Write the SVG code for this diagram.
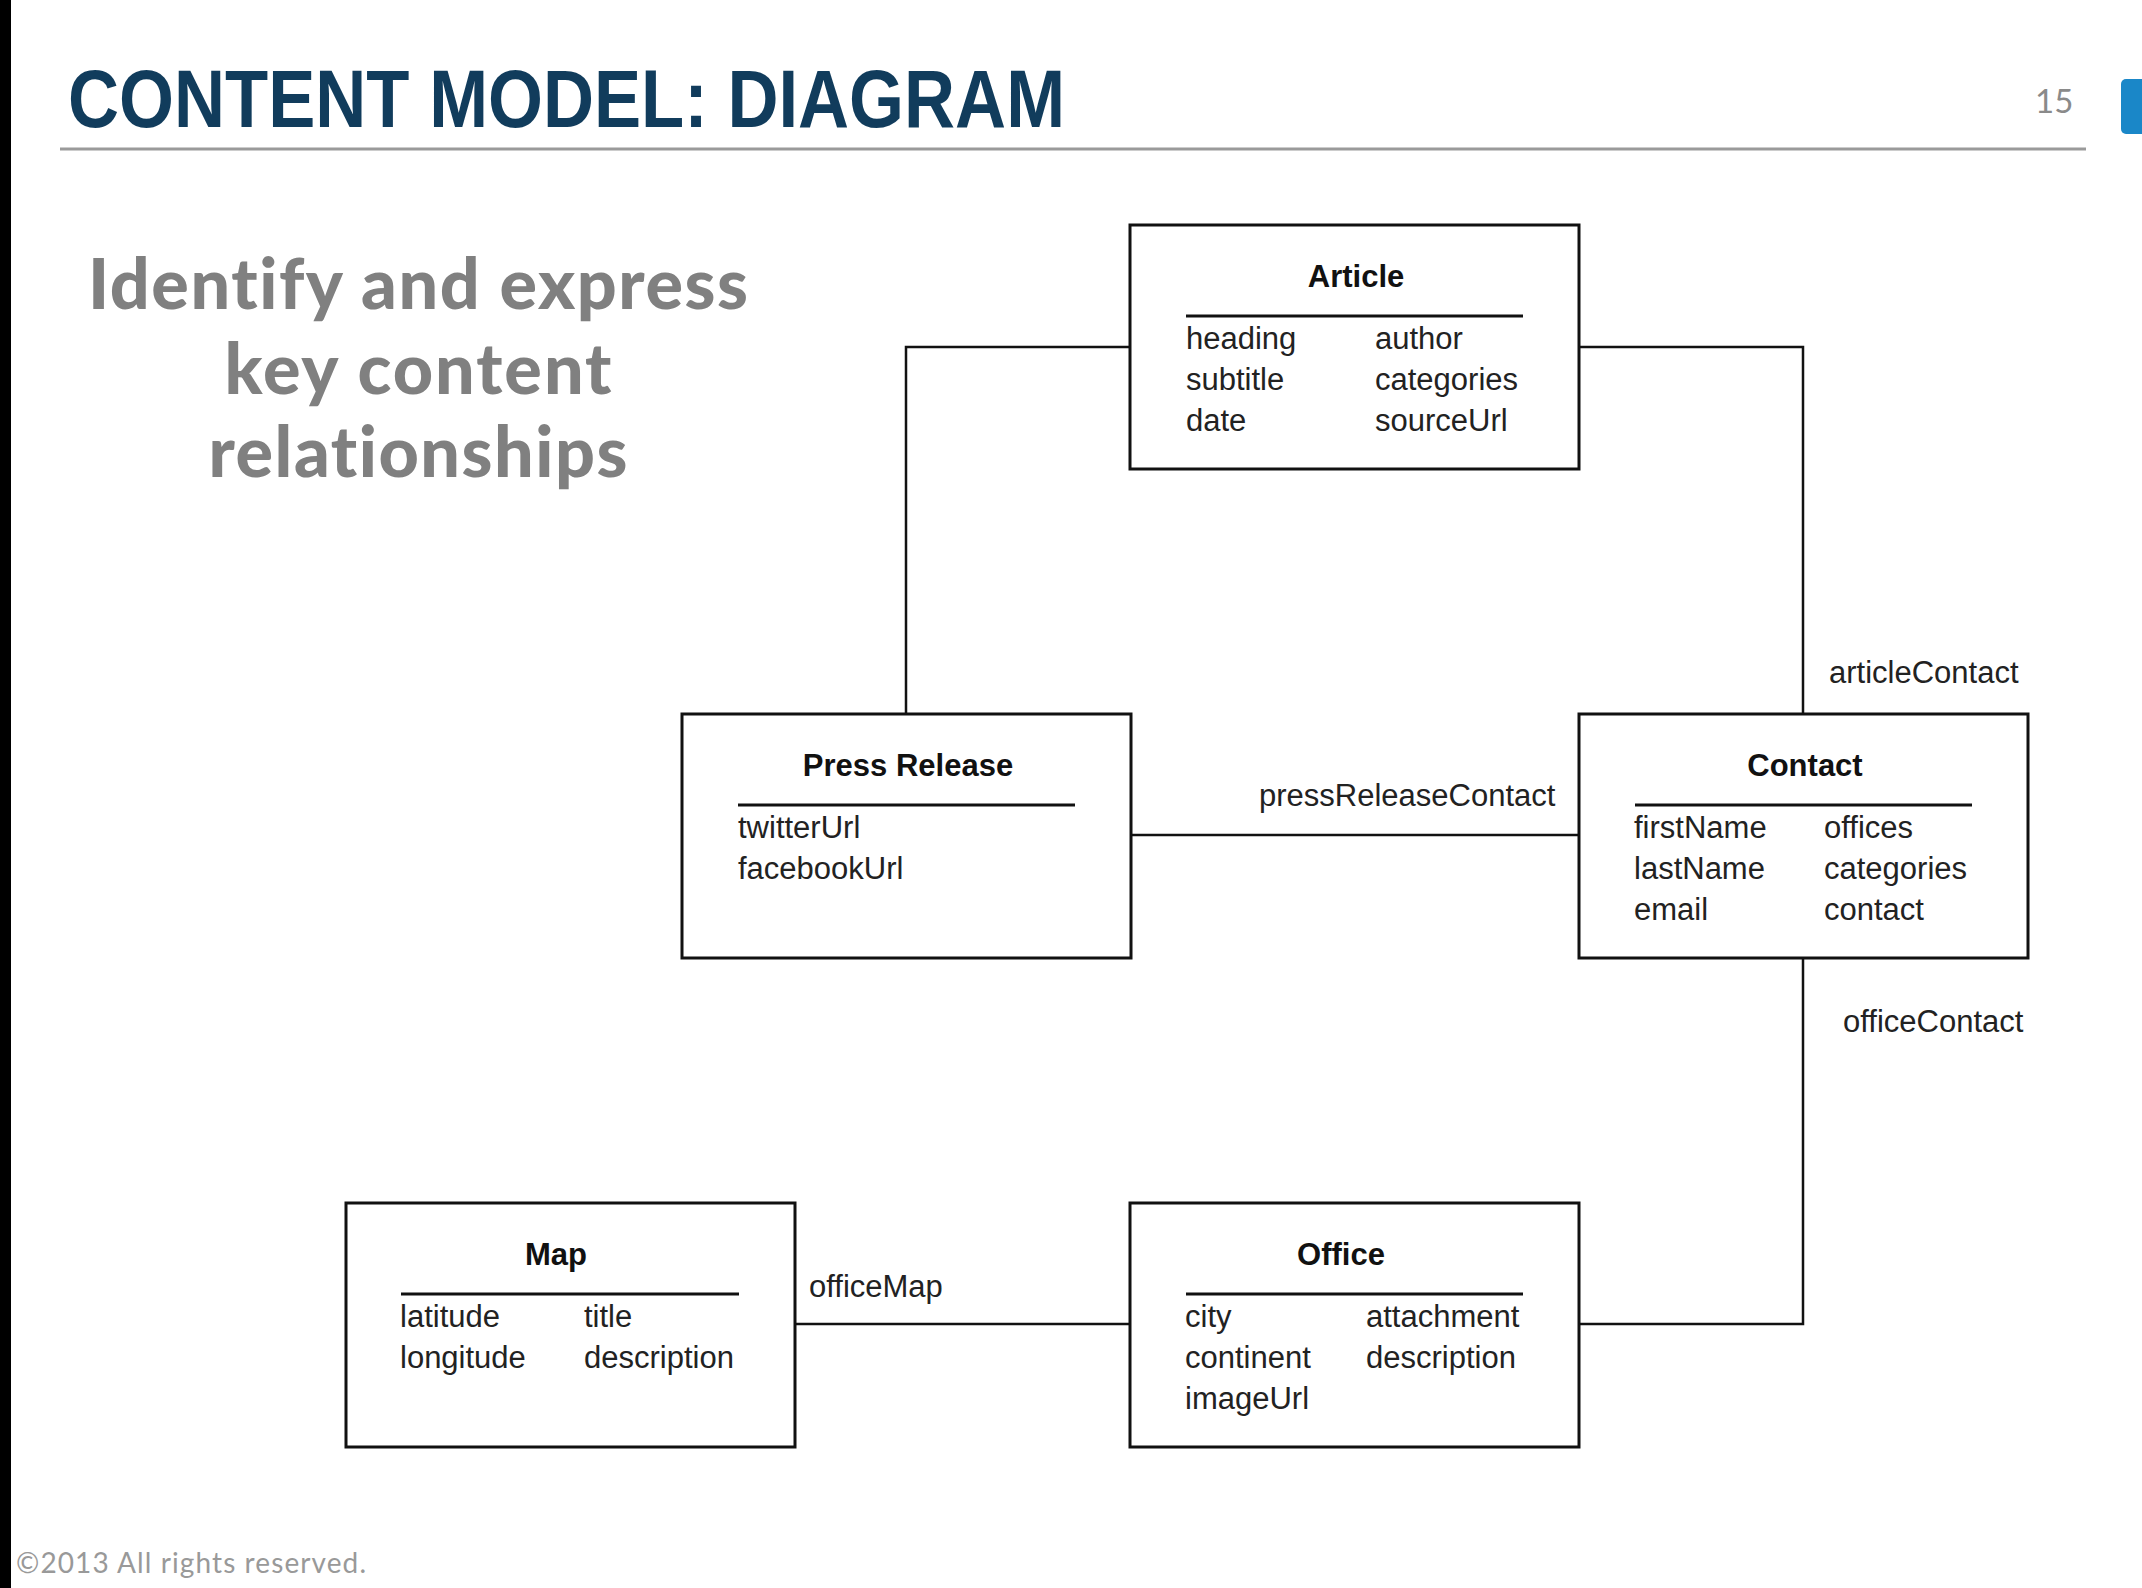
<svg xmlns="http://www.w3.org/2000/svg" width="2142" height="1588" viewBox="0 0 2142 1588">
<style>
.box{fill:#fff;stroke:#111;stroke-width:3}
.div{stroke:#111;stroke-width:3}
.conn{fill:none;stroke:#111;stroke-width:2.5}
.ttl{font-family:"Liberation Sans",Arial,sans-serif;font-weight:bold;font-size:31px;fill:#111;text-anchor:middle}
.att{font-family:"Liberation Sans",Arial,sans-serif;font-size:31px;fill:#222}
.lbl{font-family:"Liberation Sans",Arial,sans-serif;font-size:31px;fill:#222}
.sub{font-family:Lato,"Open Sans",sans-serif;font-weight:900;font-size:70px;fill:#808080;text-anchor:middle;font-variant-ligatures:none}
</style>
<rect x="0" y="0" width="2142" height="1588" fill="#fff"/>
<rect x="0" y="0" width="11" height="1588" fill="#000"/>
<g id="header">
<text x="68" y="127" font-family="Liberation Sans,Arial,sans-serif" font-weight="bold" font-size="82" fill="#113c5c" textLength="997" lengthAdjust="spacingAndGlyphs">CONTENT MODEL: DIAGRAM</text>
<line x1="60" y1="149" x2="2086" y2="149" stroke="#9a9a9a" stroke-width="3"/>
<text x="2035" y="113" font-family="Lato,sans-serif" font-size="33" fill="#8a8a8a">15</text>
<rect x="2121" y="79" width="30" height="55" rx="5" fill="#1a87c8"/>
</g>
<g id="subtitle">
<text class="sub" x="418" y="309" textLength="660">Identify and express</text>
<text class="sub" x="418" y="394" textLength="387">key content</text>
<text class="sub" x="418" y="477" textLength="419">relationships</text>
</g>
<g id="connectors">
<polyline class="conn" points="1130,347 906,347 906,714"/>
<polyline class="conn" points="1579,347 1803,347 1803,714"/>
<line class="conn" x1="1131" y1="835" x2="1579" y2="835"/>
<polyline class="conn" points="1803,958 1803,1324 1579,1324"/>
<line class="conn" x1="794" y1="1324" x2="1130" y2="1324"/>
<text class="lbl" x="1829" y="683">articleContact</text>
<text class="lbl" x="1259" y="806">pressReleaseContact</text>
<text class="lbl" x="1843" y="1032">officeContact</text>
<text class="lbl" x="809" y="1297">officeMap</text>
</g>
<g id="article">
<rect class="box" x="1130" y="225" width="449" height="244"/>
<text class="ttl" x="1356" y="287">Article</text>
<line class="div" x1="1186" y1="316" x2="1523" y2="316"/>
<text class="att" x="1186" y="349">heading</text>
<text class="att" x="1186" y="390">subtitle</text>
<text class="att" x="1186" y="431">date</text>
<text class="att" x="1375" y="349">author</text>
<text class="att" x="1375" y="390">categories</text>
<text class="att" x="1375" y="431">sourceUrl</text>
</g>
<g id="press-release">
<rect class="box" x="682" y="714" width="449" height="244"/>
<text class="ttl" x="908" y="776">Press Release</text>
<line class="div" x1="738" y1="805" x2="1075" y2="805"/>
<text class="att" x="738" y="838">twitterUrl</text>
<text class="att" x="738" y="879">facebookUrl</text>
</g>
<g id="contact">
<rect class="box" x="1579" y="714" width="449" height="244"/>
<text class="ttl" x="1805" y="776">Contact</text>
<line class="div" x1="1635" y1="805" x2="1972" y2="805"/>
<text class="att" x="1634" y="838">firstName</text>
<text class="att" x="1634" y="879">lastName</text>
<text class="att" x="1634" y="920">email</text>
<text class="att" x="1824" y="838">offices</text>
<text class="att" x="1824" y="879">categories</text>
<text class="att" x="1824" y="920">contact</text>
</g>
<g id="map">
<rect class="box" x="346" y="1203" width="449" height="244"/>
<text class="ttl" x="556" y="1265">Map</text>
<line class="div" x1="401" y1="1294" x2="739" y2="1294"/>
<text class="att" x="400" y="1327">latitude</text>
<text class="att" x="400" y="1368">longitude</text>
<text class="att" x="584" y="1327">title</text>
<text class="att" x="584" y="1368">description</text>
</g>
<g id="office">
<rect class="box" x="1130" y="1203" width="449" height="244"/>
<text class="ttl" x="1341" y="1265">Office</text>
<line class="div" x1="1186" y1="1294" x2="1523" y2="1294"/>
<text class="att" x="1185" y="1327">city</text>
<text class="att" x="1185" y="1368">continent</text>
<text class="att" x="1185" y="1409">imageUrl</text>
<text class="att" x="1366" y="1327">attachment</text>
<text class="att" x="1366" y="1368">description</text>
</g>
<g id="footer">
<text x="16" y="1573" font-family="Lato,sans-serif" font-size="28" fill="#999" textLength="350">©2013 All rights reserved.</text>
</g>
</svg>
